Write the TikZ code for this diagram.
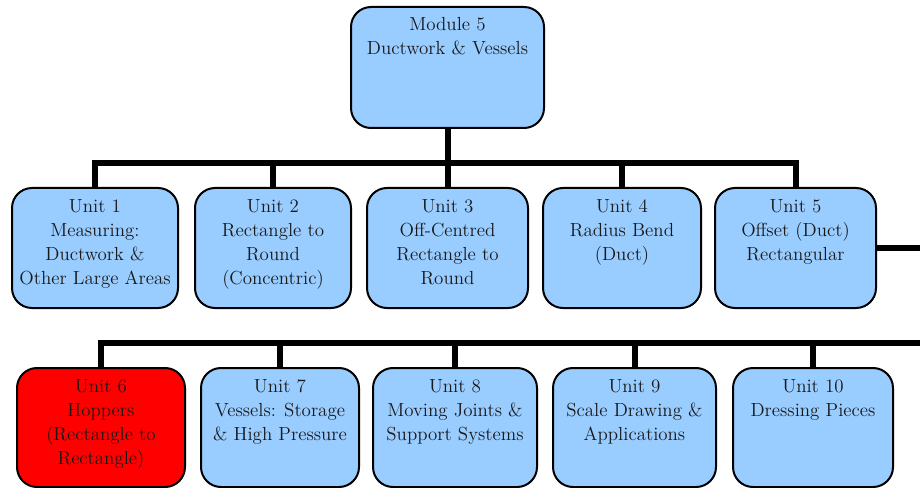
\documentclass[tikz,border=0pt]{standalone}
\definecolor{boxblue}{HTML}{99CCFF}
\definecolor{boxred}{HTML}{FF0000}
\tikzset{
  x=0.75pt, y=-0.75pt,
  unitbox/.style={draw=black, line width=1.5pt, fill=boxblue, rounded corners=15pt, inner sep=0pt},
  redbox/.style={unitbox, fill=boxred},
  lbl/.style={anchor=north, align=center, inner sep=0pt, font=\fontsize{14.2}{18}\selectfont, text=black!90},
  conn/.style={line width=4.5pt, line join=miter, draw=black},
}
\begin{document}
\begin{tikzpicture}
\useasboundingbox (0,0) rectangle (920,488);
\clip (0,0) rectangle (920,488);
% boxes
\node[unitbox, minimum width=193*0.75pt, minimum height=121*0.75pt] (m) at (447.5,67.5) {};
\node[unitbox, minimum width=166*0.75pt, minimum height=120*0.75pt] (u1) at (95,248) {};
\node[unitbox, minimum width=156*0.75pt, minimum height=120*0.75pt] (u2) at (273,248) {};
\node[unitbox, minimum width=161*0.75pt, minimum height=120*0.75pt] (u3) at (447.5,248) {};
\node[unitbox, minimum width=158*0.75pt, minimum height=120*0.75pt] (u4) at (622,248) {};
\node[unitbox, minimum width=161*0.75pt, minimum height=120*0.75pt] (u5) at (795.5,248) {};
\node[redbox,  minimum width=168*0.75pt, minimum height=119*0.75pt] (u6) at (101,427.5) {};
\node[unitbox, minimum width=158*0.75pt, minimum height=119*0.75pt] (u7) at (280,427.5) {};
\node[unitbox, minimum width=164*0.75pt, minimum height=119*0.75pt] (u8) at (455,427.5) {};
\node[unitbox, minimum width=163*0.75pt, minimum height=119*0.75pt] (u9) at (634.5,427.5) {};
\node[unitbox, minimum width=160*0.75pt, minimum height=119*0.75pt] (u10) at (813,427.5) {};
% labels
\node[lbl] (tm) at ([yshift=-8.25pt]m.north) {Module 5\\Ductwork \& Vessels};
\node[lbl] (t1) at ([yshift=-9pt]u1.north) {Unit 1\\Measuring:\\Ductwork \&\\Other Large Areas};
\node[lbl] (t2) at ([yshift=-9pt]u2.north) {Unit 2\\Rectangle to\\Round\\(Concentric)};
\node[lbl] (t3) at ([yshift=-9pt]u3.north) {Unit 3\\Off-Centred\\Rectangle to\\Round};
\node[lbl] (t4) at ([yshift=-9pt]u4.north) {Unit 4\\Radius Bend\\(Duct)};
\node[lbl] (t5) at ([yshift=-9pt]u5.north) {Unit 5\\Offset (Duct)\\Rectangular};
\node[lbl] (t6) at ([yshift=-9pt]u6.north) {Unit 6\\Hoppers\\(Rectangle to\\Rectangle)};
\node[lbl] (t7) at ([yshift=-9pt]u7.north) {Unit 7\\Vessels: Storage\\\& High Pressure};
\node[lbl] (t8) at ([yshift=-9pt]u8.north) {Unit 8\\Moving Joints \&\\Support Systems};
\node[lbl] (t9) at ([yshift=-9pt]u9.north) {Unit 9\\Scale Drawing \&\\Applications};
\node[lbl] (t10) at ([yshift=-9pt]u10.north) {Unit 10\\Dressing Pieces};
% connectors
\coordinate (bus1L) at (95,163);
\coordinate (bus1R) at (795.5,163);
\coordinate (bus2L) at (101,343);
\coordinate (bus2R) at (935,343);
\draw[conn] (u1.north) |- (bus1R) -- (u5.north);
\draw[conn] (m.south) -- (m.south |- bus1L);
\draw[conn] (u2.north) -- (u2.north |- bus1L);
\draw[conn] (u3.north) -- (u3.north |- bus1L);
\draw[conn] (u4.north) -- (u4.north |- bus1L);
\draw[conn] (u5.east) -| (bus2R) -| (u6.north);
\draw[conn] (u7.north) -- (u7.north |- bus2L);
\draw[conn] (u8.north) -- (u8.north |- bus2L);
\draw[conn] (u9.north) -- (u9.north |- bus2L);
\draw[conn] (u10.north) -- (u10.north |- bus2L);
\end{tikzpicture}
\end{document}
